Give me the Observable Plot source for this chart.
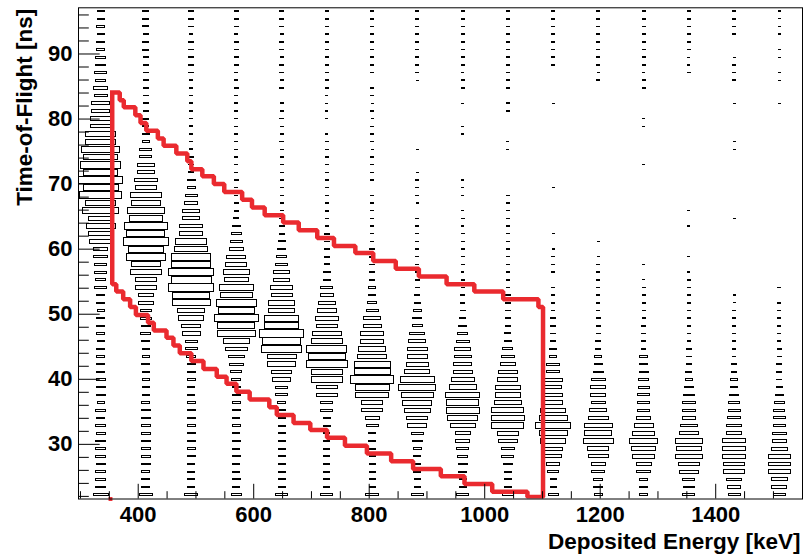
<!DOCTYPE html>
<html><head><meta charset="utf-8">
<script src="https://cdn.jsdelivr.net/npm/d3@7"></script>
<script src="https://cdn.jsdelivr.net/npm/@observablehq/plot@0.6"></script>
<style>html,body{margin:0;padding:0;background:#fff;}#chart{width:807px;height:557px;}</style>
</head><body><div id="chart"></div>
<script>
// Histogram binning (deposited energy in keV, time-of-flight in ns)
const energyRange = [296.6, 1550.3];
const nEnergyBins = 16;
const tofRange = [21.6, 97.1];
const nTofBins = 64;

// Counts per energy bin, listed from the highest TOF bin down to the lowest
const c01 = [10,10,14,10,14,14,22,20,29,22,40,36,76,68,96,90,202,194,314,250,360,260,422,270,384,202,281,122,185,122,102,40,40,29,29,20,29,14,14,10,14,14,14,10,14,14,14,14,17,17,17,10,20,14,22,17,22,20,22,17,22,20,22,48];
const c02 = [8,8,8,6,8,8,6,6,6,4,6,5,6,6,8,8,12,12,32,32,68,62,116,102,202,176,302,230,410,314,449,270,336,185,212,102,102,53,48,29,29,17,22,14,12,12,14,10,10,12,12,14,17,17,17,20,20,17,17,20,14,14,14,40];
const c03 = [4,4,4,3,4,4,4,4,4,3,3,3,3,3,3,3,3,3,3,4,4,5,14,14,32,40,62,68,116,122,221,230,336,325,449,348,449,292,314,152,144,78,73,32,32,17,14,14,14,12,12,14,14,14,14,14,14,14,14,12,12,12,12,36];
const c04 = [3,3,3,2,3,3,3,3,2,2,3,2,2,2,2,2,2,2,2,2,2,2,3,2,2,3,4,6,12,20,32,40,78,96,144,130,250,221,360,292,422,302,314,152,102,58,40,26,17,14,12,12,12,10,12,10,12,10,12,10,10,12,10,22];
const c05 = [3,3,3,2,3,3,2,3,3,2,3,0,2,2,3,2,2,3,2,2,2,2,2,2,2,2,2,3,5,6,10,12,20,29,53,53,102,96,152,144,250,250,422,314,348,185,168,84,73,32,29,12,10,10,10,10,10,10,10,10,10,10,10,29];
const c06 = [3,2,3,2,3,2,3,2,2,2,3,1,1,1,1,0,1,2,2,2,2,2,2,2,2,2,3,3,3,4,4,5,6,6,12,12,32,40,62,78,109,96,185,221,348,302,360,221,221,90,90,32,32,12,10,8,8,8,8,8,8,8,8,32];
const c07 = [3,3,2,3,3,2,3,2,2,0,2,2,1,2,1,2,2,2,1,2,2,2,2,0,2,2,2,2,2,2,3,4,5,5,6,6,10,12,20,32,62,73,122,122,168,185,281,281,410,250,230,102,90,44,32,12,10,8,8,8,8,8,8,40];
const c08 = [2,2,2,2,2,2,2,2,2,1,0,0,0,0,0,0,0,0,1,0,0,1,2,2,2,1,0,2,2,2,2,2,2,2,3,3,4,5,8,12,17,22,48,62,84,90,102,137,250,302,230,185,152,96,78,32,22,12,10,8,10,8,8,32];
const c09 = [2,2,2,2,2,2,2,2,1,2,2,0,1,0,0,1,1,0,0,0,0,0,1,1,1,0,1,2,1,2,2,2,2,2,1,2,2,3,4,5,8,13,22,36,53,62,70,81,116,160,250,226,240,190,137,50,46,30,22,17,12,10,10,29];
const c10 = [2,2,2,2,2,2,2,2,2,2,2,0,2,2,0,0,0,1,1,0,0,0,0,0,2,2,2,2,2,2,2,2,2,2,2,3,3,4,4,5,5,6,8,12,22,36,51,81,87,130,137,168,226,245,226,102,81,40,31,16,12,10,10,27];
const c11 = [2,2,2,2,2,2,2,2,0,0,0,0,1,0,0,0,0,0,0,0,0,0,0,1,0,0,0,0,0,1,0,1,2,2,2,0,2,2,2,3,4,4,5,6,13,12,34,34,70,60,81,81,133,172,276,172,141,70,60,34,27,8,8,21];
const c12 = [2,2,2,2,2,2,2,2,1,2,0,0,0,0,0,0,0,0,0,0,0,0,0,0,0,0,0,0,0,0,1,0,1,2,2,2,2,2,2,2,3,3,3,6,6,10,14,22,44,48,48,44,62,84,176,160,202,96,84,44,36,18,18,14];
const c13 = [2,2,2,2,2,2,2,2,1,2,2,0,0,0,1,1,0,0,0,0,1,0,0,0,0,0,0,0,0,0,0,0,0,1,0,1,2,2,2,2,2,3,3,3,4,12,14,17,20,26,29,32,34,44,80,105,180,122,110,50,40,16,14,16];
const c14 = [2,2,2,2,2,2,1,1,2,0,0,0,0,0,0,0,0,0,0,0,0,0,0,0,0,0,1,0,1,0,0,0,1,0,1,2,2,2,2,2,2,2,2,2,4,5,6,8,9,16,24,34,36,40,58,77,152,145,156,90,81,32,29,31];
const c15 = [2,2,2,2,0,0,1,2,2,2,0,0,1,0,0,0,0,1,1,0,0,0,0,0,0,0,0,1,0,0,0,0,0,0,0,0,0,1,1,2,2,2,2,2,2,3,4,4,11,12,20,24,32,33,47,50,122,109,122,102,102,48,40,31];
const c16 = [1,1,1,1,0,1,1,0,1,1,0,0,1,0,0,0,0,0,0,0,0,0,0,0,0,0,0,0,0,0,0,0,0,0,0,0,2,0,2,2,2,2,2,2,3,3,5,6,6,8,15,20,26,32,31,40,47,59,100,107,107,59,48,32];

// Graphical cut (vertices of a stepped polygon)
const cutEnergy = [355,368,375,395,404,414,434,444,466,485,492,511,531,549,580,597,619,651,678,710,739,776,807,846,886,934,982,1032,1093,1101,1101,1074,1013,965,924,876,838,796,758,727,698,669,640,627,593,570,553,536,513,492,472,461,449,427,417,396,386,374,362,355,355];
const cutTof = [84.1,82.9,81.8,80.6,79.4,78.2,77.0,75.9,74.7,73.5,72.3,71.2,70.0,68.8,67.6,66.4,65.2,64.1,62.9,61.7,60.5,59.4,58.2,57.0,55.8,54.6,53.5,52.3,51.1,51.1,21.9,22.7,23.9,25.1,26.2,27.4,28.6,29.8,31.0,32.2,33.3,34.5,35.7,36.9,38.1,39.3,40.4,41.6,42.8,44.0,45.2,46.4,47.5,48.7,49.9,51.1,52.3,53.5,54.6,54.6,84.1];
const cutMarkerEnergy = [352];
const cutMarkerTof = [21.6];

// Axis ticks
const xMajorTicks = [400,600,800,1000,1200,1400];
const xMinorTicks = [300,350,450,500,550,650,700,750,850,900,950,1050,1100,1150,1250,1300,1350,1450,1500];
const yMajorTicks = [30,40,50,60,70,80,90];
const yMinorTicks = [22,24,26,28,32,34,36,38,42,44,46,48,52,54,56,58,62,64,66,68,72,74,76,78,82,84,86,88,92,94,96];
const xTitle = "Deposited Energy [keV]";
const yTitle = "Time-of-Flight [ns]";

// ---- build ----
const W = 807, H = 557;
const mL = 78, mR = 5, mT = 7.3, mB = 58.5;
const plotW = W - mL - mR, plotH = H - mT - mB;
const kx = (energyRange[1]-energyRange[0]) / plotW; // data units per px
const ky = (tofRange[1]-tofRange[0]) / plotH;

const columns = [c01,c02,c03,c04,c05,c06,c07,c08,c09,c10,c11,c12,c13,c14,c15,c16];
const bwE = (energyRange[1]-energyRange[0]) / nEnergyBins;
const bwT = (tofRange[1]-tofRange[0]) / nTofBins;
const cells = [];
columns.forEach((col, i) => col.forEach((c, r) => {
  if (c > 0) cells.push({energy: energyRange[0] + (i + 0.5) * bwE, tof: tofRange[1] - (r + 0.5) * bwT, count: c});
}));
const cmax = d3.max(cells, d => d.count);
const hs = d => Math.sqrt(d.count / cmax) / 2;

const cut = cutEnergy.map((e, i) => ({energy: e, tof: cutTof[i]}));
const marker = cutMarkerEnergy.map((e, i) => ({energy: e, tof: cutMarkerTof[i]}));
const red = "#ea2a2f";
const FS = 22.5;
const FT = 22;

const chart = Plot.plot({
  width: W, height: H,
  marginLeft: mL, marginRight: mR, marginTop: mT, marginBottom: mB,
  x: {domain: energyRange},
  y: {domain: tofRange},
  style: {fontFamily: "'Liberation Sans', Arial, Helvetica, sans-serif", fontWeight: "bold", fontSize: FS + "px", color: "black", background: "white", overflow: "visible"},
  marks: [
    Plot.rect(cells, {
      x1: d => d.energy - hs(d) * bwE, x2: d => d.energy + hs(d) * bwE,
      y1: d => d.tof - hs(d) * bwT, y2: d => d.tof + hs(d) * bwT,
      fill: "none", stroke: "black", strokeWidth: 1, shapeRendering: "crispEdges"
    }),
    Plot.line(cut, {x: "energy", y: "tof", curve: "step-after", stroke: red, strokeWidth: 4.5, strokeLinejoin: "miter", strokeLinecap: "square", clip: true}),
    Plot.dot(marker, {x: "energy", y: "tof", symbol: "square", r: 2.2, fill: red, stroke: null}),
    Plot.frame({stroke: "black", strokeWidth: 1}),
    Plot.ruleX(xMajorTicks, {x: d => d, y1: tofRange[0], y2: tofRange[0] + 14.7 * ky, stroke: "black", strokeWidth: 1}),
    Plot.ruleX(xMinorTicks, {x: d => d, y1: tofRange[0], y2: tofRange[0] + 7.3 * ky, stroke: "black", strokeWidth: 1}),
    Plot.ruleY(yMajorTicks, {y: d => d, x1: energyRange[0], x2: energyRange[0] + 21.7 * kx, stroke: "black", strokeWidth: 1}),
    Plot.ruleY(yMinorTicks, {y: d => d, x1: energyRange[0], x2: energyRange[0] + 10.8 * kx, stroke: "black", strokeWidth: 1}),
    Plot.axisX({ticks: xMajorTicks, tickSize: 0, tickPadding: 7.5, tickFormat: d => String(d), fontSize: FT, fontWeight: "bold", label: null}),
    Plot.axisY({ticks: yMajorTicks, tickSize: 0, tickPadding: 6, tickFormat: d => String(d), fontSize: FT, fontWeight: "bold", label: null}),
    Plot.text([xTitle], {frameAnchor: "bottom-right", text: d => d, textAnchor: "end", dx: -2, dy: 49.5, fontSize: FS, fontWeight: "bold", fill: "black"}),
    Plot.text([yTitle], {frameAnchor: "top-left", text: d => d, textAnchor: "end", rotate: -90, dx: -62, dy: 1, fontSize: FS, fontWeight: "bold", fill: "black"})
  ]
});
document.getElementById("chart").appendChild(chart);
</script>
</body></html>
